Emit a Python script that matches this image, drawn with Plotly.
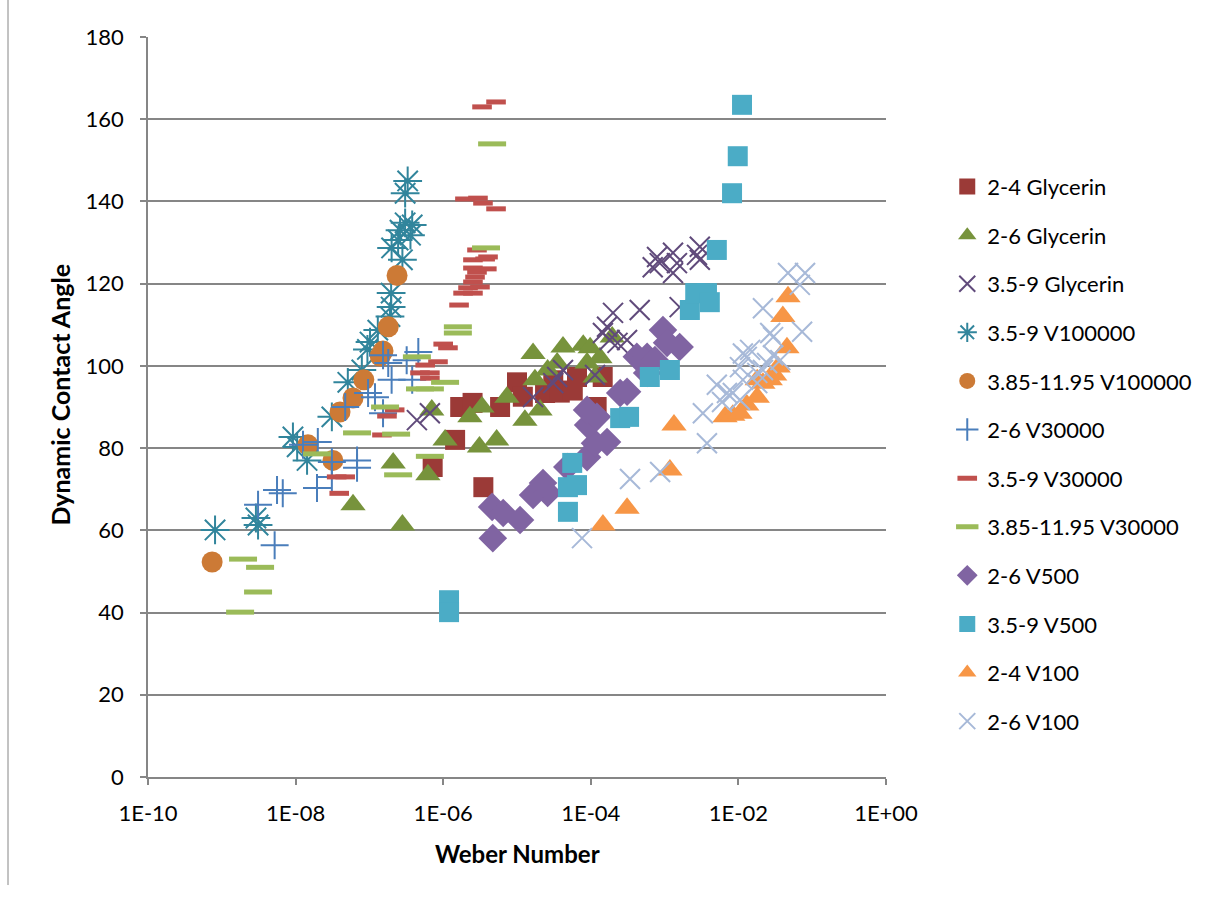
import plotly.graph_objects as go

# ---- Weber number (x) and dynamic contact angle in degrees (y) per series ----
gly24_x = [7.2e-7, 1.45e-6, 1.7e-6, 2.5e-6, 3.5e-6, 5.9e-6, 1.0e-5, 1.2e-5, 2.4e-5,
           3.1e-5, 3.8e-5, 5.7e-5, 6.5e-5, 1.2e-4, 1.45e-4]
gly24_y = [75.4, 82, 90, 91, 70.5, 90, 96, 92.5, 93.4, 96.5, 93.5, 94, 97.3, 90, 97.3]

gly26_x = [6.0e-8, 2.1e-7, 2.8e-7, 6.2e-7, 7.0e-7, 1.06e-6, 2.3e-6, 3.1e-6, 3.35e-6,
           5.3e-6, 7.3e-6, 1.28e-5, 1.65e-5, 1.75e-5, 2.05e-5, 2.6e-5, 3.5e-5, 4.2e-5,
           7.9e-5, 8.9e-5, 9.8e-5, 1.14e-4, 1.33e-4, 1.95e-4]
gly26_y = [66.2, 76.4, 61.3, 73.5, 89.3, 82, 87.6, 80.3, 90, 82, 92.4, 86.8, 103, 96.6,
           89.3, 99, 100.7, 104.6, 105, 100.7, 104.4, 97.3, 102, 107]

gly359_x = [4.4e-7, 6.6e-7, 1.65e-5, 3.1e-5, 3.5e-5, 4.2e-5, 1.14e-4, 1.46e-4, 1.66e-4,
            2.0e-4, 2.3e-4, 1.8e-4, 3.1e-4, 4.6e-4, 6.9e-4, 7.9e-4, 8.6e-4, 1.3e-3,
            1.3e-3, 1.47e-3, 1.6e-3, 3.0e-3, 3.0e-3, 2.75e-3]
gly359_y = [86.8, 88.5, 92.4, 95.8, 97.3, 99, 97.8, 108, 109.5, 112.9, 105.6, 106.3,
            106.3, 113.6, 124, 126.5, 125, 127.5, 122.6, 125, 114.3, 129, 125.8, 127]

v100k_359_x = [8.1e-10, 2.9e-9, 3.1e-9, 9.2e-9, 1.05e-8, 1.43e-8, 3.1e-8, 5.1e-8, 7.9e-8,
               9.4e-8, 1.02e-7, 1.3e-7, 1.9e-7, 1.97e-7, 1.97e-7, 2.8e-7, 2.0e-7, 2.6e-7,
               3.05e-7, 3.8e-7, 3.05e-7, 3.3e-7, 2.45e-7, 3.6e-7]
v100k_359_y = [60.1, 63, 61.3, 82.7, 80.3, 77, 87.6, 96, 99, 104, 105.8, 108.7, 112,
               114.3, 117.7, 125.8, 128.7, 133, 134.8, 134.3, 142, 145, 130.6, 131.8]

v100k_385_x = [7.4e-10, 1.47e-8, 3.2e-8, 4.0e-8, 6.0e-8, 8.4e-8, 1.4e-7, 1.53e-7, 1.8e-7,
               2.37e-7]
v100k_385_y = [52.3, 80.8, 77, 88.8, 92.2, 96.6, 102.4, 103.6, 109.5, 122]

v30k_26_x = [3.1e-9, 5.2e-9, 5.6e-9, 6.7e-9, 1.26e-8, 2.0e-8, 1.95e-8, 3.1e-8, 3.1e-8,
             4.7e-8, 6.8e-8, 6.8e-8, 9.6e-8, 1.19e-7, 1.53e-7, 1.53e-7, 1.8e-7, 2.0e-7,
             3.2e-7, 3.8e-7, 4.6e-7]
v30k_26_y = [66.2, 56.4, 69.8, 69, 80.8, 81.5, 70.3, 76.6, 73, 90, 75.2, 77, 93.4, 92.4,
             88.5, 102.6, 100.7, 96.6, 101.4, 96.6, 103.4]

v30k_359_x = [3.6e-8, 4.7e-8, 3.9e-8, 1.48e-7, 1.73e-7, 2.2e-7, 4.85e-7, 5.7e-7, 6.6e-7,
              6.6e-7, 8.5e-7, 1.0e-6, 1.16e-6, 1.64e-6, 1.86e-6, 2.17e-6, 2.53e-6, 2.53e-6,
              2.7e-6, 2.87e-6, 2.53e-6, 3.9e-6, 2.53e-6, 3.7e-6, 4.05e-6, 2.87e-6, 3.15e-6,
              1.97e-6, 2.96e-6, 3.46e-6, 5.2e-6, 3.36e-6, 5.2e-6]
v30k_359_y = [73, 73, 69, 83.2, 87.8, 89.3, 98.3, 100.2, 97, 98.3, 101, 105.3, 104.4,
              114.8, 117.7, 119, 117.7, 120.4, 121.6, 122.8, 123.8, 123.6, 125.8, 126,
              126.5, 128.2, 119.2, 140.6, 140.8, 139.6, 138.2, 163, 164.2]

v30k_385_x = [1.77e-9, 1.94e-9, 3.3e-9, 3.1e-9, 1.95e-8, 6.8e-8, 1.63e-7, 2.3e-7, 2.45e-7,
              4.4e-7, 4.85e-7, 6.6e-7, 6.6e-7, 1.06e-6, 1.58e-6, 1.58e-6, 3.8e-6, 4.6e-6]
v30k_385_y = [40.1, 53, 51, 45, 78.6, 83.7, 90, 83.4, 73.5, 102.2, 94.4, 94.4, 78, 96,
              109.5, 108, 128.7, 154]

v500_26_x = [4.7e-6, 4.6e-6, 6.5e-6, 1.1e-5, 1.65e-5, 2.6e-5, 2.25e-5, 4.8e-5, 8.9e-5,
             1.14e-4, 1.66e-4, 9.2e-5, 1.21e-4, 8.9e-5, 2.5e-4, 3.1e-4, 4.2e-4, 5.8e-4,
             5.8e-4, 9.5e-4, 1.08e-3, 1.6e-3, 7.4e-4]
v500_26_y = [58.1, 65.7, 64.2, 62.5, 68.6, 69.1, 71.5, 75.4, 77.8, 81.2, 81.5, 85.6,
             87.6, 89.3, 93.4, 93.7, 102.2, 102.2, 98.3, 108.7, 105.6, 104.6, 101.4]

v500_359_x = [1.2e-6, 1.2e-6, 4.9e-5, 4.9e-5, 6.5e-5, 5.6e-5, 2.5e-4, 3.3e-4, 6.3e-4,
              1.18e-3, 2.2e-3, 2.6e-3, 3.75e-3, 4.1e-3, 5.1e-3, 8.2e-3, 9.8e-3, 1.12e-2]
v500_359_y = [43, 40.1, 64.5, 70.5, 71, 76.4, 87.3, 87.6, 97.3, 99, 113.6, 117.7, 117.7,
              115.5, 128.2, 142, 151, 163.5]

v100_24_x = [1.46e-4, 3.1e-4, 1.18e-3, 1.34e-3, 6.6e-3, 8.4e-3, 1.05e-2, 1.3e-2, 1.8e-2,
             1.8e-2, 2.15e-2, 2.7e-2, 3.45e-2, 4.55e-2, 4.0e-2, 4.7e-2, 3.1e-2]
v100_24_y = [61.3, 65.4, 74.7, 85.6, 87.6, 88, 88.5, 90.5, 92.4, 96.6, 95.8, 96.6, 99.7,
             104.4, 112, 116.8, 97.8]

v100_26_x = [7.6e-5, 3.4e-4, 8.7e-4, 3.3e-3, 3.75e-3, 5.1e-3, 6.0e-3, 7.0e-3, 8.4e-3,
             1.05e-2, 1.15e-2, 1.15e-2, 1.3e-2, 1.44e-2, 1.05e-2, 1.8e-2, 1.8e-2, 2.15e-2,
             2.45e-2, 2.95e-2, 2.95e-2, 2.15e-2, 2.7e-2, 3.7e-2, 4.7e-2, 8.0e-2, 6.8e-2,
             7.3e-2]
v100_26_y = [58.1, 72.5, 74.2, 88.5, 81.2, 95.4, 91.2, 93.4, 93.4, 91.7, 96.6, 103,
             102.2, 103.9, 99.7, 98.3, 95.8, 99, 100.7, 102.6, 107, 114, 108, 101.4,
             122.6, 122.6, 119.7, 108.3]

x_tick_vals = [1e-10, 1e-8, 1e-6, 1e-4, 1e-2, 1e0]
x_tick_text = ["1E-10", "1E-08", "1E-06", "1E-04", "1E-02", "1E+00"]
y_tick_vals = [0, 20, 40, 60, 80, 100, 120, 140, 160, 180]

FONT = "Lato"
GRID = "#868686"

# name, x, y, symbol, colour, size, line width (for open symbols)
series = [
    ("2-4 Glycerin", gly24_x, gly24_y, "square", "#9B3A37", 20, 0),
    ("2-6 Glycerin", gly26_x, gly26_y, "triangle-up", "#77933C", 22, 0),
    ("3.5-9 Glycerin", gly359_x, gly359_y, "x-thin-open", "#604A7B", 20, 2),
    ("3.5-9 V100000", v100k_359_x, v100k_359_y, "asterisk-open", "#31859C", 24, 2),
    ("3.85-11.95 V100000", v100k_385_x, v100k_385_y, "circle", "#CC7A36", 21, 0),
    ("2-6 V30000", v30k_26_x, v30k_26_y, "cross-thin-open", "#4A7EBB", 20, 2),
    ("3.5-9 V30000", v30k_359_x, v30k_359_y, "line-ew-open", "#C0504D", 14, 5),
    ("3.85-11.95 V30000", v30k_385_x, v30k_385_y, "line-ew-open", "#9BBB59", 20, 5),
    ("2-6 V500", v500_26_x, v500_26_y, "diamond", "#8064A2", 22, 0),
    ("3.5-9 V500", v500_359_x, v500_359_y, "square", "#4BACC6", 20, 0),
    ("2-4 V100", v100_24_x, v100_24_y, "triangle-up", "#F79646", 22, 0),
    ("2-6 V100", v100_26_x, v100_26_y, "x-thin-open", "#A7B9D8", 20, 2),
]

fig = go.Figure()
for i, (name, xs, ys, sym, col, size, lw) in enumerate(series):
    if lw:
        marker = dict(symbol=sym, size=size, color=col, line=dict(color=col, width=lw))
    else:
        marker = dict(symbol=sym, size=size, color=col, line=dict(width=0))
    fig.add_trace(go.Scatter(x=xs, y=ys, mode="markers", name=name, marker=marker,
                             legendgroup=f"g{i}"))

fig.update_layout(
    width=1228, height=899,
    margin=dict(l=148, r=342, t=37, b=122),
    paper_bgcolor="white", plot_bgcolor="white",
    font=dict(family=FONT, size=22, color="black"),
    showlegend=True,
    legend=dict(x=1.083, y=0.826, xanchor="left", yanchor="top",
                font=dict(family=FONT, size=22, color="black"),
                itemsizing="trace", tracegroupgap=17, bgcolor="rgba(0,0,0,0)"),
    xaxis=dict(type="log", range=[-10, 0], tickvals=x_tick_vals, ticktext=x_tick_text,
               showgrid=False, zeroline=False, showline=True, linecolor=GRID, linewidth=1.5,
               ticks="outside", ticklen=6, tickcolor=GRID, tickwidth=1.5,
               tickfont=dict(family=FONT, size=22), ticklabelstandoff=10),
    yaxis=dict(range=[0, 180], tickvals=y_tick_vals, showgrid=True, gridcolor=GRID,
               gridwidth=1.5, zeroline=False, showline=True, linecolor=GRID, linewidth=1.5,
               ticks="outside", ticklen=6, tickcolor=GRID, tickwidth=1.5,
               tickfont=dict(family=FONT, size=22), ticklabelstandoff=12),
    annotations=[
        dict(text="<b>Weber Number</b>", xref="paper", yref="paper", x=0.5, y=-0.103,
             xanchor="center", yanchor="middle", showarrow=False,
             font=dict(family=FONT, size=24)),
        dict(text="<b>Dynamic Contact Angle</b>", xref="paper", yref="paper", x=-0.119,
             y=0.517, xanchor="center", yanchor="middle", textangle=-90, showarrow=False,
             font=dict(family=FONT, size=25)),
    ],
    shapes=[
        dict(type="line", xref="paper", yref="paper", x0=-0.1897, x1=-0.1897,
             y0=1.06, y1=-0.146, line=dict(color=GRID, width=1)),
    ],
)

fig.write_html("out.html")
